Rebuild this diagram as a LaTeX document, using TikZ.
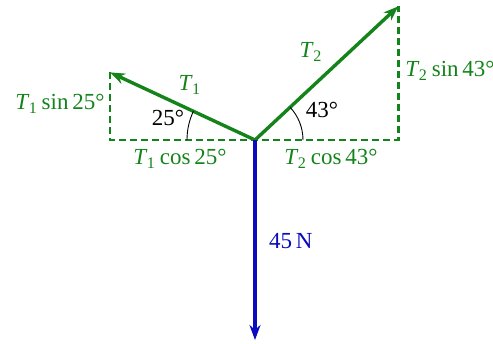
\documentclass[tikz,border=0pt]{standalone}
\usepackage{fontspec}
\setmainfont{Liberation Serif}
\usepackage{tikz}
\usetikzlibrary{arrows.meta,positioning,calc}
\definecolor{forcegreen}{HTML}{14841A}
\definecolor{forceblue}{HTML}{0A0ABE}
\newcommand{\tens}[1]{\textit{T}\kern-0.3pt\textsubscript{#1}}

\begin{document}
\begin{tikzpicture}[x=0.5pt,y=0.5pt,
    font=\fontsize{11.5}{14}\selectfont,
    force/.style={line width=1.7pt, -{Stealth[length=7.5pt,width=5.5pt]}},
    comp/.style={forcegreen, line width=1.4pt, dash pattern=on 3.5pt off 2pt},
    anglearc/.style={black, line width=0.45pt},
    glabel/.style={text=forcegreen, inner sep=1pt}]
  \useasboundingbox (-255,-203) rectangle (238,140);
  % point of suspension and tips of the forces
  \coordinate (O) at (0,0);
  \coordinate (t1) at (155:160);
  \coordinate (t2) at (43:196);
  \coordinate (w) at (0,-200);
  % Components (dashed)
  \draw[comp] (t1) |- (O) -| (t2);
  % Forces
  \draw[force, forcegreen] (O) -- (t1);
  \draw[force, forcegreen] (O) -- (t2);
  \draw[force, forceblue] (O) -- (w);
  % Angle arcs
  \draw[anglearc] ($(O)+(180:68)$) arc (180:155:68);
  \draw[anglearc] ($(O)+(0:48)$) arc (0:43:48);
  % Labels
  \node (a1) at (-87,22) {25°};
  \node (a2) at (67,30) {43°};
  \node[glabel] (l1) at (-65,55) {\tens{1}};
  \node[glabel] (l2) at (56,88) {\tens{2}};
  \node[glabel, anchor=east, inner sep=0pt] (s1) at (-150,36) {\tens{1}\,sin\,25°};
  \node[glabel, anchor=west, inner sep=0pt] (s2) at (150,69) {\tens{2}\,sin\,43°};
  \node[glabel] (c1) at (-75,-19) {\tens{1}\,cos\,25°};
  \node[glabel] (c2) at (76,-19) {\tens{2}\,cos\,43°};
  \node[text=forceblue, anchor=west] (wl) at (7,-101) {45\,N};
\end{tikzpicture}
\end{document}
